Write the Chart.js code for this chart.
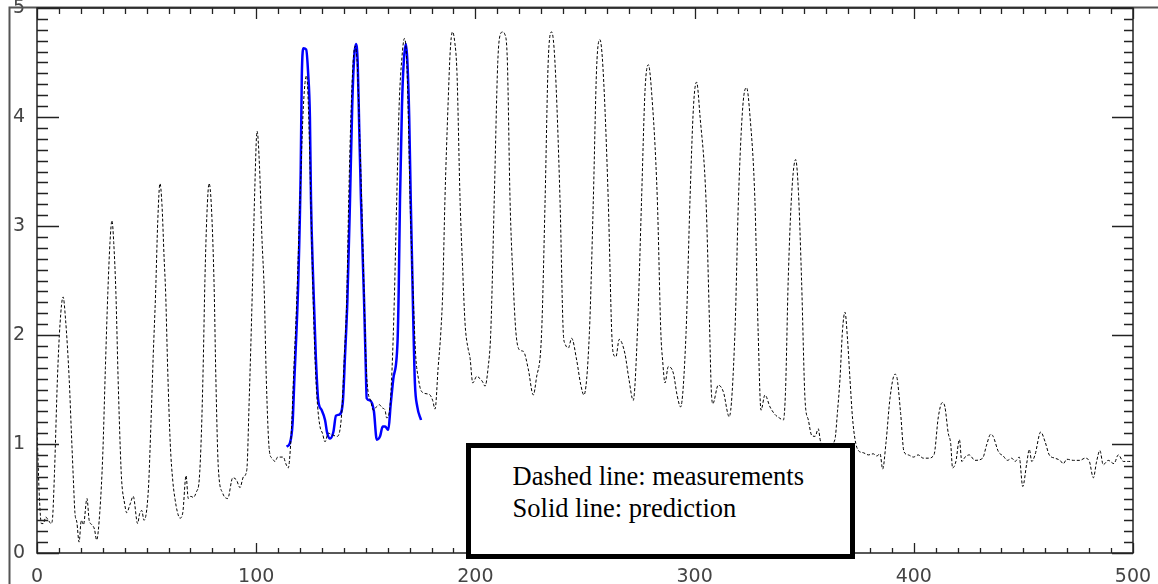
<!DOCTYPE html>
<html>
<head>
<meta charset="utf-8">
<script src="https://cdn.jsdelivr.net/npm/chart.js@4"></script>
<style>
  body { margin: 0; background: #fff; }
  #wrap { position: relative; width: 1158px; height: 584px; }
  #note {
    position: absolute;
    box-sizing: border-box;
    border: 5px solid #000;
    background: #fff;
    padding: 12px 0 0 42px;
    font-family: "Liberation Serif", "Times New Roman", serif;
    font-size: 26.5px;
    line-height: 32px;
    color: #000;
    white-space: nowrap;
  }
</style>
</head>
<body>
<div id="wrap">
  <canvas id="plot"></canvas>
  <div id="note">Dashed line: measurements<br>Solid line: prediction</div>
</div>
<script>
// measured curve (dashed)
const measX = [
  0, 1, 2, 2.9, 4, 5.2, 6.4, 7, 8, 9.3, 10.5, 11.9, 13, 14.7, 15.7, 16.6, 17.3, 18.2, 19.2, 20.2,
  21.2, 22.8, 23.8, 25, 26.2, 27.2, 28.7, 30, 31.2, 32.3, 33.3, 34.2, 35, 36, 37, 38, 38.6, 40, 40.9, 42.5,
  43.9, 45.9, 46.8, 47.8, 48.8, 50.8, 52, 53, 54.1, 55.1, 56.1, 57, 58, 58.7, 59.6, 60.8, 62, 63, 64, 65.2,
  66.5, 68, 69, 70.2, 71.3, 72.7, 74, 75, 75.8, 76.6, 77.5, 78.5, 79.5, 80.8, 81.6, 82.7, 84.7, 87, 89.3, 91,
  92.6, 94.2, 95.7, 96.8, 98.2, 99.3, 100.4, 101.5, 102.6, 103.7, 104.6, 106, 107.2, 108.6, 109.8, 110.9, 112.4, 113.5, 114.6, 116,
  117, 118.5, 120, 121.3, 122.2, 123, 123.8, 124.9, 126, 127, 128, 129.1, 130.2, 131.4, 132.9, 134, 135.2, 137, 139, 140.2,
  141.3, 142.2, 143.2, 144.2, 145.2, 146.2, 147.1, 148.1, 149.3, 150.2, 151.1, 152.2, 153.4, 154.8, 156.2, 157.6, 158.8, 159.5, 161, 162,
  163, 164.1, 165.2, 166.5, 167.6, 168.6, 169.4, 170.2, 171.7, 172.8, 174, 175, 176.2, 178, 179.3, 180.5, 181.6, 183, 184.2, 185.1,
  186.1, 187.5, 188.5, 189.5, 190.5, 191.6, 193, 194.2, 195.3, 196.8, 197.5, 198.8, 200.6, 202.1, 203.3, 204.4, 205.8, 207, 208.6, 210.2,
  211.4, 212.4, 213.4, 214.6, 215.8, 217.2, 218.5, 220.3, 221.9, 224.1, 226.4, 227.8, 230.2, 231.8, 233.2, 234.8, 236.3, 238.6, 240.1, 240.9,
  242.4, 243.9, 246.2, 248, 249.5, 252, 253.8, 255.3, 256.8, 258.2, 260.6, 262.2, 262.9, 264.1, 265.6, 268.2, 270, 272, 273.9, 275.8,
  277.4, 278.9, 280.3, 283, 284.6, 285.4, 286.5, 288, 290.3, 292, 293.6, 296.1, 297.9, 299.5, 300.9, 302.5, 305.2, 306.8, 307.6, 308.3,
  310.8, 313.1, 315.8, 318.4, 320, 322, 323.7, 325.3, 327.5, 329, 330.3, 332.1, 334.4, 336.7, 338.6, 340.5, 341.5, 342.7, 344.3, 346.1,
  347.4, 348.8, 350.4, 351.9, 353.4, 355, 356.4, 357.5, 359.5, 361.8, 364, 365.2, 366.3, 367.5, 368.6, 369.8, 370.9, 372, 373.2, 374.7,
  377, 379.3, 381.5, 383.1, 384.6, 385.8, 387.3, 389.2, 391.4, 392.2, 394, 395.5, 397.5, 399.8, 402, 404.3, 406.6, 409.2, 411.2, 413,
  414.2, 415.7, 416.8, 417.7, 419.2, 420.8, 421.9, 423.4, 425.3, 427.9, 431.4, 433.2, 435.1, 436.2, 438.6, 440.8, 442.7, 444.7, 446.2, 448.1,
  449.7, 451.5, 452.7, 453.8, 455.3, 457.9, 459.9, 461.8, 464.4, 466.7, 468.2, 469.8, 472.8, 475.8, 478.1, 480.1, 481.9, 483.4, 484.9, 486.4,
  488.7, 491.3, 493.3, 495.6, 497.9, 500
];
const measY = [
  1.15, 0.55, 0.27, 0.27, 0.33, 0.30, 0.27, 0.30, 0.75, 1.59, 2.1, 2.35, 2.15, 1.59, 1.1, 0.67, 0.37, 0.28, 0.10, 0.30,
  0.26, 0.50, 0.30, 0.26, 0.22, 0.12, 0.39, 0.9, 1.7, 2.38, 2.85, 3.05, 2.85, 2.38, 1.6, 0.95, 0.67, 0.45, 0.37, 0.45,
  0.52, 0.27, 0.36, 0.39, 0.30, 0.58, 1.2, 1.8, 2.38, 3.05, 3.39, 3.2, 2.7, 2.38, 1.7, 1.0, 0.65, 0.49, 0.38, 0.32,
  0.37, 0.71, 0.50, 0.52, 0.51, 0.56, 0.67, 1.1, 1.7, 2.5, 3.1, 3.39, 3.2, 2.45, 1.6, 0.79, 0.55, 0.50, 0.69, 0.67,
  0.60, 0.70, 0.76, 1.4, 2.38, 3.3, 3.87, 3.55, 2.9, 2.38, 1.6, 0.94, 0.87, 0.84, 0.88, 0.88, 0.88, 0.82, 0.78, 1.1,
  1.6, 2.32, 3.24, 4.0, 4.3, 4.38, 4.1, 3.24, 2.32, 1.7, 1.35, 1.16, 1.1, 1.02, 1.10, 1.09, 1.08, 1.07, 1.28, 1.8,
  2.32, 3.24, 4.0, 4.5, 4.65, 4.45, 3.9, 3.24, 2.32, 1.7, 1.47, 1.40, 1.31, 1.34, 1.36, 1.33, 1.31, 1.24, 1.34, 1.7,
  2.32, 3.24, 4.1, 4.55, 4.72, 4.55, 4.0, 3.24, 2.32, 1.8, 1.60, 1.50, 1.47, 1.46, 1.45, 1.40, 1.32, 1.7, 2.02, 2.4,
  3.24, 4.1, 4.6, 4.78, 4.7, 4.4, 3.24, 2.6, 2.1, 1.86, 1.80, 1.56, 1.62, 1.60, 1.57, 1.53, 1.7, 2.02, 3.24, 4.5,
  4.76, 4.78, 4.76, 4.5, 3.24, 2.5, 2.02, 1.86, 1.85, 1.69, 1.45, 1.6, 2.02, 3.24, 4.5, 4.78, 4.5, 3.24, 2.02, 1.92,
  1.88, 1.97, 1.77, 1.55, 1.45, 2.02, 3.24, 4.45, 4.71, 4.45, 3.24, 2.02, 1.83, 1.80, 1.96, 1.83, 1.6, 1.40, 2.02, 3.24,
  4.25, 4.48, 4.25, 3.24, 2.02, 1.77, 1.56, 1.71, 1.65, 1.45, 1.34, 2.02, 3.24, 4.1, 4.32, 4.0, 3.24, 2.1, 1.5, 1.37,
  1.54, 1.48, 1.25, 2.02, 3.24, 4.1, 4.27, 4.0, 3.24, 2.02, 1.31, 1.45, 1.34, 1.27, 1.24, 1.22, 1.5, 2.5, 3.3, 3.61,
  3.3, 2.5, 1.4, 1.22, 1.08, 1.07, 1.14, 1.02, 0.99, 0.99, 1.04, 1.3, 1.59, 2.05, 2.21, 1.95, 1.59, 1.25, 1.04, 0.94,
  0.92, 0.90, 0.91, 0.89, 0.91, 0.77, 1.01, 1.43, 1.64, 1.62, 1.28, 0.93, 0.90, 0.88, 0.90, 0.87, 0.87, 0.90, 1.25, 1.38,
  1.34, 1.10, 1.01, 0.78, 0.84, 1.04, 0.84, 0.88, 0.90, 0.85, 0.87, 0.99, 1.09, 1.07, 0.93, 0.89, 0.85, 0.87, 0.84, 0.88,
  0.61, 0.82, 0.95, 0.84, 0.90, 1.11, 1.02, 0.90, 0.87, 0.85, 0.82, 0.86, 0.85, 0.85, 0.87, 0.84, 0.69, 0.84, 0.94, 0.81,
  0.85, 0.82, 0.90, 0.84, 0.84, 0.84
];

// predicted curve (solid blue)
const predX = [
  113.9, 115.4, 116.6, 117.4, 118.3, 119.2, 120.3, 120.8, 121.6, 122.8, 123.7, 124.5, 125, 126, 127.2, 128.3, 129.9, 131.4, 132.4, 133.7,
  135.2, 136.4, 137.9, 139.5, 140.5, 141.6, 142.8, 143.8, 144.7, 145.5, 146.3, 147, 147.8, 149.2, 150, 150.4, 151.9, 153.7, 155, 156.5,
  157.7, 158.8, 160.3, 161.3, 162.5, 164.5, 165, 165.6, 166.5, 167.3, 168.3, 169, 169.8, 170.5, 171.7, 172.4, 173.5, 175.2
];
const predY = [
  0.975, 1.01, 1.19, 1.59, 2.0, 2.5, 3.5, 4.37, 4.63, 4.62, 4.4, 4.0, 3.24, 2.5, 1.8, 1.40, 1.31, 1.22, 1.10, 1.05,
  1.11, 1.26, 1.27, 1.38, 1.8, 2.32, 3.24, 4.1, 4.55, 4.67, 4.5, 3.9, 3.24, 2.32, 1.7, 1.42, 1.40, 1.30, 1.04, 1.07,
  1.16, 1.16, 1.13, 1.35, 1.59, 1.95, 2.4, 3.24, 4.1, 4.5, 4.67, 4.5, 4.0, 3.24, 2.1, 1.56, 1.34, 1.22
];

const xTicks = [0, 100, 200, 300, 400, 500];
const yTicks = [0, 1, 2, 3, 4, 5];

// legend box corners in data units
const noteBox = { x0: 195.5, x1: 373, y0: 1.01, y1: -0.055 };

// frame, inward tick marks (major + minor) on all four sides
const frameTicks = {
  id: 'frameTicks',
  afterDraw(chart) {
    const { ctx, chartArea: a, scales: { x, y } } = chart;
    ctx.save();
    ctx.strokeStyle = '#555';
    ctx.lineWidth = 2;
    ctx.beginPath();
    ctx.moveTo(9.5, 584);
    ctx.lineTo(9.5, 7.5);
    ctx.lineTo(1158, 7.5);
    ctx.stroke();

    ctx.strokeStyle = '#222';
    ctx.lineWidth = 1.5;
    ctx.strokeRect(a.left, a.top, a.right - a.left, a.bottom - a.top);

    ctx.lineWidth = 1.3;
    ctx.beginPath();
    for (let v = 0; v <= 500; v += 10) {
      const px = Math.round(x.getPixelForValue(v)) + 0.5;
      const major = v % 100 === 0;
      ctx.moveTo(px, a.bottom);
      ctx.lineTo(px, a.bottom - (major ? 10 : 5));
      ctx.moveTo(px, a.top);
      ctx.lineTo(px, a.top + (major ? 11 : 6));
    }
    for (let i = 0; i <= 50; i++) {
      const py = Math.round(y.getPixelForValue(i / 10)) + 0.5;
      const major = i % 10 === 0;
      ctx.moveTo(a.left, py);
      ctx.lineTo(a.left + (major ? 22 : 11), py);
      ctx.moveTo(a.right, py);
      ctx.lineTo(a.right - (major ? 21 : 9), py);
    }
    ctx.stroke();
    ctx.restore();
  },
  afterRender(chart) {
    const { x, y } = chart.scales;
    const el = document.getElementById('note');
    const l = x.getPixelForValue(noteBox.x0), r = x.getPixelForValue(noteBox.x1);
    const t = y.getPixelForValue(noteBox.y0), b = y.getPixelForValue(noteBox.y1);
    el.style.left = l + 'px';
    el.style.top = t + 'px';
    el.style.width = (r - l) + 'px';
    el.style.height = (b - t) + 'px';
  }
};

const tickFont = { family: '"DejaVu Sans", sans-serif', size: 19 };

new Chart(document.getElementById('plot'), {
  type: 'line',
  data: {
    datasets: [
      {
        label: 'measurements',
        data: measX.map((v, i) => ({ x: v, y: measY[i] })),
        borderColor: '#000',
        borderWidth: 1,
        borderDash: [3, 2],
        pointRadius: 0,
        cubicInterpolationMode: 'monotone',
        fill: false,
      },
      {
        label: 'prediction',
        data: predX.map((v, i) => ({ x: v, y: predY[i] })),
        borderColor: '#0000ff',
        borderWidth: 2.5,
        pointRadius: 0,
        cubicInterpolationMode: 'monotone',
        fill: false,
      },
    ],
  },
  options: {
    responsive: true,
    maintainAspectRatio: false,
    animation: false,
    events: [],
    layout: { padding: { left: 10, top: 8, right: 25, bottom: 0 } },
    plugins: { legend: { display: false }, tooltip: { enabled: false } },
    scales: {
      x: {
        type: 'linear',
        min: 0,
        max: 500,
        grid: { display: false },
        border: { display: false },
        afterBuildTicks: (s) => { s.ticks = xTicks.map((v) => ({ value: v })); },
        afterFit: (s) => { s.height = 31; s.paddingLeft = 0; s.paddingRight = 0; },
        ticks: { font: tickFont, color: '#444', padding: 5, maxRotation: 0 },
      },
      y: {
        min: 0,
        max: 5,
        grid: { display: false },
        border: { display: false },
        afterBuildTicks: (s) => { s.ticks = yTicks.map((v) => ({ value: v })); },
        afterFit: (s) => { s.width = 27; s.paddingTop = 0; s.paddingBottom = 0; },
        ticks: { font: tickFont, color: '#444', padding: 4 },
      },
    },
  },
  plugins: [frameTicks],
});
</script>
</body>
</html>
